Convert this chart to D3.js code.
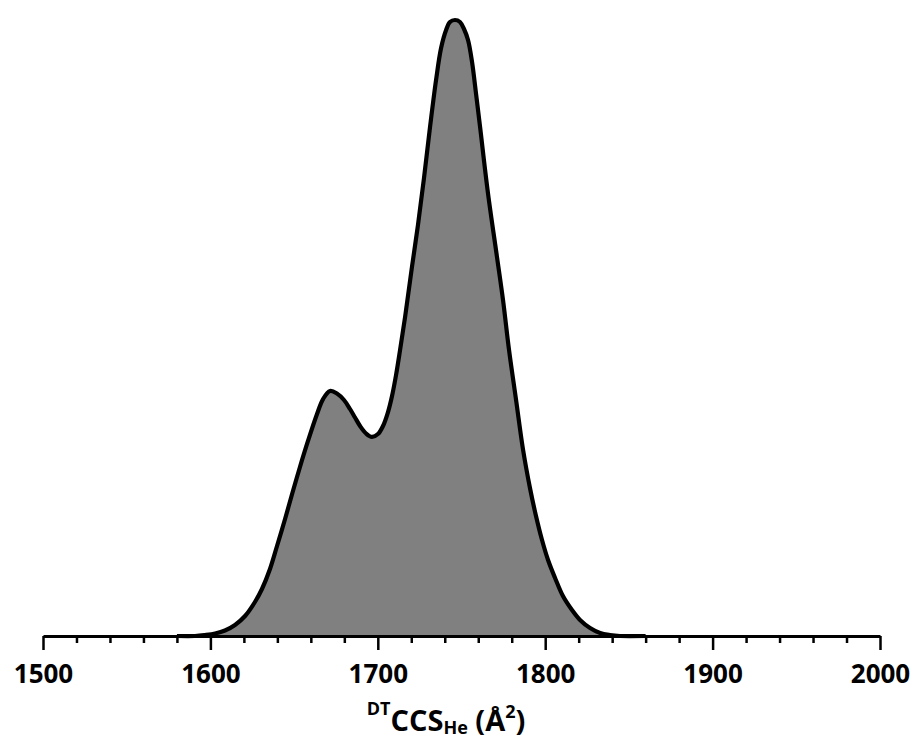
<!DOCTYPE html>
<html>
<head>
<meta charset="utf-8">
<script src="https://cdn.jsdelivr.net/npm/d3@7/dist/d3.min.js"></script>
<style>
  html, body { margin: 0; padding: 0; background: #fff; }
  svg { display: block; }
  text { font-family: "Open Sans", "DejaVu Sans", sans-serif; font-weight: 700; fill: #000; }
</style>
</head>
<body>
<svg id="chart" width="914" height="740"></svg>
<script>
// Arrival-time distribution converted to collision cross section (He drift gas)
const ccs = [1580, 1590.8, 1596.8, 1602.8, 1608.7, 1614.7, 1620.7, 1626.6, 1630.8, 1635.6,
             1639.8, 1644.6, 1648.8, 1653.5, 1658.3, 1663.7, 1667.3, 1671.5, 1675.6, 1679.8,
             1683.4, 1686.4, 1689.4, 1693.0, 1696.5, 1700.1, 1703.1, 1706.1, 1708.5, 1710.9,
             1713.3, 1716.3, 1720.4, 1724.0, 1727.6, 1731.2, 1734.8, 1737.8, 1740.8, 1743.1,
             1746.1, 1749.1, 1751.5, 1753.9, 1756.3, 1758.7, 1761.1, 1765.8, 1771.2, 1774.8,
             1778.4, 1782.6, 1786.8, 1790.9, 1794.5, 1798.1, 1801.7, 1805.9, 1810.6, 1816.0,
             1820.8, 1826.8, 1832.8, 1838.7, 1844.7, 1860];
const intensity = [0, 0, 0.0016, 0.0041, 0.0089, 0.0179, 0.0325, 0.0552, 0.0763, 0.1088,
                   0.1461, 0.1899, 0.2305, 0.2744, 0.3166, 0.3604, 0.3847, 0.3977, 0.3937, 0.3831,
                   0.3685, 0.3547, 0.3409, 0.3287, 0.3231, 0.3279, 0.3409, 0.3636, 0.3896, 0.4237,
                   0.4643, 0.5179, 0.5990, 0.6672, 0.7435, 0.8263, 0.9026, 0.9545, 0.9838, 0.9968,
                   1.0, 0.9968, 0.9854, 0.9675, 0.9318, 0.8799, 0.8263, 0.7192, 0.6153, 0.5455,
                   0.4643, 0.3831, 0.3019, 0.2403, 0.1948, 0.1558, 0.1234, 0.0942, 0.0649, 0.0422,
                   0.0260, 0.0130, 0.0049, 0.0016, 0, 0];
const majorTicks = [1500, 1600, 1700, 1800, 1900, 2000];
const minorTicks = d3.range(1520, 2000, 20).filter(v => v % 100 !== 0);

const svg = d3.select("#chart");
const x = d3.scaleLinear().domain([1500, 2000]).range([43, 880]);
const y = d3.scaleLinear().domain([0, 1]).range([636, 20]);

const data = ccs.map((c, i) => ({ c, v: intensity[i] }));
const curve = d3.curveCatmullRom.alpha(0.5);

svg.append("path")
  .datum(data)
  .attr("d", d3.area().x(d => x(d.c)).y0(y(0)).y1(d => y(d.v)).curve(curve))
  .attr("fill", "#808080");

svg.append("path")
  .datum(data)
  .attr("d", d3.line().x(d => x(d.c)).y(d => y(d.v)).curve(curve))
  .attr("fill", "none")
  .attr("stroke", "#000")
  .attr("stroke-width", 4.2)
  .attr("stroke-linejoin", "round");

// minor ticks
const minorAxis = svg.append("g")
  .attr("transform", `translate(0,${y(0)})`)
  .call(d3.axisBottom(x).tickValues(minorTicks).tickSize(7).tickSizeOuter(0).tickFormat(""));
minorAxis.select(".domain").remove();
minorAxis.selectAll(".tick line").attr("stroke", "#000").attr("stroke-width", 2.5);

// major ticks with labels
const majorAxis = svg.append("g")
  .attr("transform", `translate(0,${y(0)})`)
  .call(d3.axisBottom(x).tickValues(majorTicks).tickSize(14).tickSizeOuter(0)
        .tickPadding(14.5).tickFormat(d3.format("d")));
majorAxis.select(".domain").attr("stroke", "#000").attr("stroke-width", 2.8);
majorAxis.selectAll(".tick line").attr("stroke", "#000").attr("stroke-width", 2.5);
majorAxis.selectAll(".tick text")
  .attr("font-size", 26)
  .attr("font-family", "'Open Sans', sans-serif")
  .attr("font-weight", 700)
  .attr("fill", "#000");

// axis title: DT CCS He (Å²)
const title = svg.append("text")
  .attr("x", 446)
  .attr("y", 731)
  .attr("text-anchor", "middle")
  .attr("font-size", 29);
title.append("tspan").attr("font-size", 18).attr("dy", -16).text("DT");
title.append("tspan").attr("dy", 16).text("CCS");
title.append("tspan").attr("font-size", 18).attr("dy", 3).text("He");
title.append("tspan").attr("dy", -3).text(" (Å");
title.append("tspan").attr("font-size", 18).attr("dy", -13).text("2");
title.append("tspan").attr("dy", 13).text(")");
</script>
</body>
</html>
